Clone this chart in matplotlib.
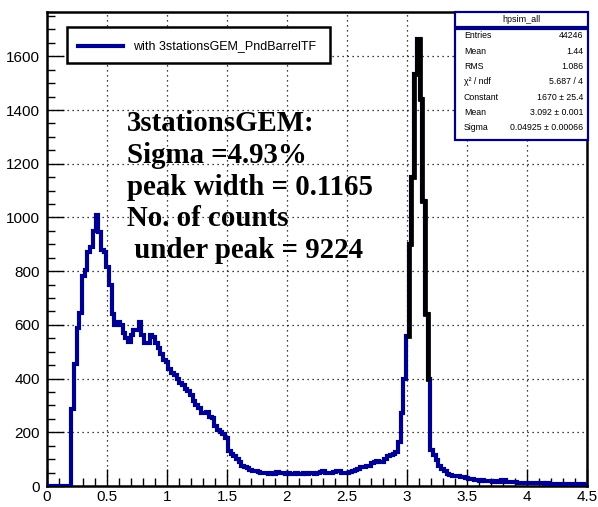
import numpy as np
import matplotlib.pyplot as plt
from matplotlib.patches import Rectangle
from matplotlib.lines import Line2D

# histogram: 200 bins over 0..4.5
x_lo, x_hi, n_bins = 0.0, 4.5, 200
counts = [
    0, 0, 0, 0, 0, 0, 0, 0, 0, 288,
    456, 587, 643, 781, 805, 870, 890, 949, 1010, 945,
    880, 870, 815, 750, 640, 600, 610, 600, 570, 550,
    535, 562, 581, 581, 609, 562, 531, 531, 562, 555,
    531, 512, 490, 470, 460, 437, 420, 413, 400, 385,
    375, 362, 355, 337, 315, 300, 290, 270, 272, 275,
    258, 255, 225, 210, 200, 195, 180, 130, 120, 113,
    100, 88, 75, 70, 66, 60, 57, 55, 52, 50,
    48, 47, 46, 48, 45, 52, 50, 47, 45, 48,
    44, 46, 47, 45, 44, 47, 46, 48, 50, 45,
    48, 52, 55, 50, 48, 50, 52, 57, 55, 50,
    48, 50, 53, 57, 60, 65, 70, 72, 75, 75,
    85, 90, 92, 88, 88, 100, 110, 115, 120, 127,
    165, 270, 400, 560, 900, 1150, 1535, 1665, 1440, 1060,
    640, 400, 135, 115, 95, 76, 65, 57, 45, 40,
    38, 36, 37, 35, 33, 29, 27, 25, 24, 22,
    20, 21, 19, 18, 17, 16, 17, 16, 22, 21,
    16, 15, 14, 15, 13, 12, 13, 12, 11, 12,
    11, 10, 11, 10, 9, 10, 9, 8, 9, 8,
    8, 7, 8, 7, 7, 6, 7, 6, 6, 5,
]
fit_first, fit_last = 133, 141   # bins drawn in black (fit range)

hist_name = "hpsim_all"
legend_label = "with 3stationsGEM_PndBarrelTF"
stat_names = ["Entries", "Mean", "RMS", "χ² / ndf", "Constant", "Mean", "Sigma"]
stat_values = ["44246", "1.44", "1.086", "5.687 / 4", "1670 ± 25.4",
               "3.092 ± 0.001", "0.04925 ± 0.00066"]
note_lines = ["3stationsGEM:", "Sigma =4.93%", "peak width = 0.1165",
              "No. of counts", " under peak = 9224"]

W, H = 598, 507
BLUE = "#000090"
NAVY = "#000080"

def fx(x):
    return x / W

def fy(y):
    return 1 - y / H

plt.rcParams["font.family"] = ["Liberation Sans", "DejaVu Sans"]

fig = plt.figure(figsize=(W / 100, H / 100), dpi=100)
ax = fig.add_axes([fx(47), fy(486), (587 - 47) / W, (486 - 12) / H])

edges = np.linspace(x_lo, x_hi, n_bins + 1)
counts = np.array(counts, dtype=float)
ax.stairs(counts, edges, color=BLUE, lw=3.0, baseline=None, zorder=3)
ax.stairs(counts[fit_first:fit_last + 1], edges[fit_first:fit_last + 2],
          color="black", lw=3.4, baseline=None, zorder=4)

ax.set_xlim(x_lo, x_hi)
ax.set_ylim(0, 1765)
ax.set_xticks(np.arange(0, 4.51, 0.5))
ax.set_xticklabels(["0", "0.5", "1", "1.5", "2", "2.5", "3", "3.5", "4", "4.5"])
ax.set_xticks(np.arange(0, 4.51, 0.1), minor=True)
ax.set_yticks(np.arange(0, 1601, 200))
ax.set_yticks(np.arange(0, 1751, 50), minor=True)
ax.tick_params(which="both", direction="in", top=False, right=False,
               labelsize=11, color="black")
ax.tick_params(which="major", length=12, width=1.0)
ax.tick_params(which="minor", length=6, width=1.0)
ax.tick_params(axis="x", pad=3)
ax.tick_params(axis="y", pad=5)
ax.grid(True, which="major", color="black", linestyle=(0, (1, 3)), linewidth=0.9)
ax.set_axisbelow(True)
for s in ax.spines.values():
    s.set_linewidth(1.8)

# legend box
fig.add_artist(Rectangle((fx(67), fy(63)), (330 - 67) / W, (63 - 27) / H,
                         transform=fig.transFigure, facecolor="white",
                         edgecolor="black", lw=1.8, zorder=10))
fig.add_artist(Line2D([fx(78), fx(123)], [fy(46), fy(46)], color=BLUE, lw=3.0,
                      transform=fig.transFigure, zorder=11))
fig.text(fx(133), fy(46), legend_label, fontsize=9, va="center", ha="left",
         zorder=11)

# stats box
fig.add_artist(Rectangle((fx(455), fy(27)), (588 - 455) / W, 15 / H,
                         transform=fig.transFigure, facecolor="white",
                         edgecolor=NAVY, lw=1.6, zorder=10))
fig.add_artist(Rectangle((fx(455), fy(140)), (588 - 455) / W, (140 - 29) / H,
                         transform=fig.transFigure, facecolor="white",
                         edgecolor=NAVY, lw=1.6, zorder=10))
fig.text(fx(521), fy(19.5), hist_name, fontsize=6.5, ha="center", va="center",
         zorder=11)
for i, (name, val) in enumerate(zip(stat_names, stat_values)):
    y = 36 + i * 15.3
    fig.text(fx(464), fy(y), name, fontsize=6.3, ha="left", va="center", zorder=11)
    fig.text(fx(583), fy(y), val, fontsize=6.3, ha="right", va="center", zorder=11)

# annotation
for i, line in enumerate(note_lines):
    fig.text(fx(127), fy(131 + i * 31.8), line, fontsize=20.8, fontweight="bold",
             family="Liberation Serif", ha="left", va="baseline", zorder=12)

fig.savefig("out.png", dpi=100)
